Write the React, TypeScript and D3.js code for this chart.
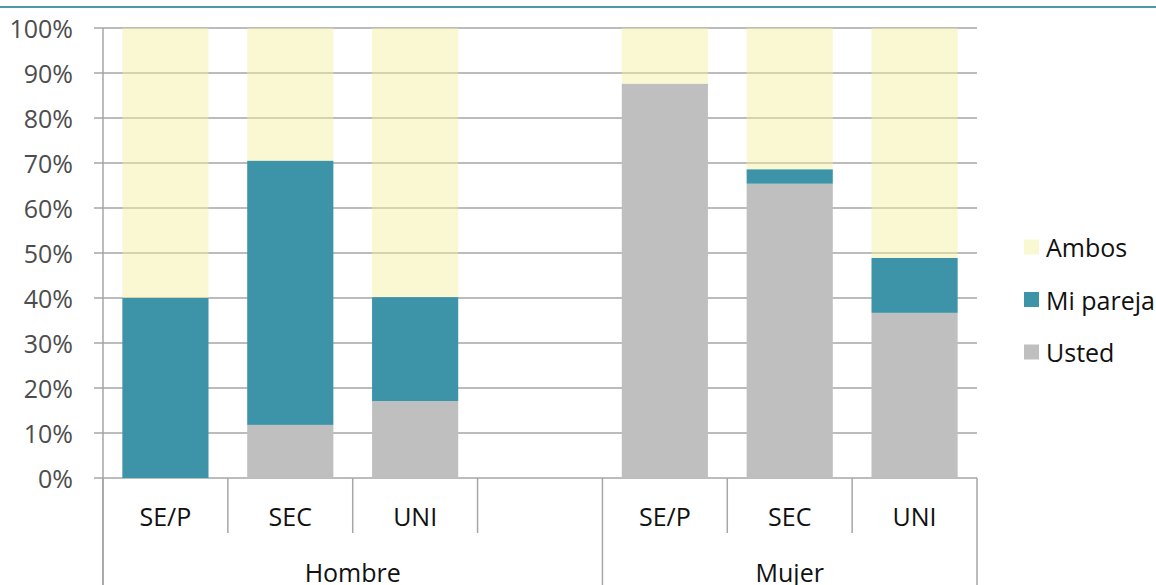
import React from "react";
import * as d3 from "d3";

const categories = ["SE/P", "SEC", "UNI", "", "SE/P", "SEC", "UNI"];
const groupOf = ["Hombre", "Hombre", "Hombre", "Hombre", "Mujer", "Mujer", "Mujer"];
const groups = ["Hombre", "Mujer"];
const usted = [0, 11.8, 17.1, 0, 87.6, 65.4, 36.7];
const miPareja = [40, 58.7, 23.1, 0, 0, 3.2, 12.2];
const ambos = [60, 29.5, 59.8, 0, 12.4, 31.4, 51.1];
const hasBar = [true, true, true, false, true, true, true];
const yTicks = [0, 10, 20, 30, 40, 50, 60, 70, 80, 90, 100];

const seriesNames = ["Ambos", "Mi pareja", "Usted"];
const seriesColors: Record<string, string> = {
  Usted: "#BFBFBF",
  "Mi pareja": "#3D93A8",
  Ambos: "#F3EE9E",
};

const W = 1156;
const H = 585;
const FONT = "'Open Sans', 'Noto Sans', sans-serif";

export default function App() {
  const left = 103;
  const right = 977;
  const top = 28;
  const bottom = 478;

  const x = d3
    .scaleBand<number>()
    .domain(categories.map((_, i) => i))
    .range([left, right])
    .paddingInner(0.31)
    .paddingOuter(0.155);
  const y = d3.scaleLinear().domain([0, 100]).range([bottom, top]);

  const step = x.step();
  const boundary = (i: number) =>
    i < categories.length ? (x(i) as number) - (step * x.paddingInner()) / 2 : right;

  const stackInput = categories.map((_, i) => ({
    Usted: usted[i],
    "Mi pareja": miPareja[i],
    Ambos: ambos[i],
    idx: i,
  }));
  const stack = d3.stack<any>().keys(["Usted", "Mi pareja", "Ambos"]);
  const layers = stack(stackInput);

  const groupStarts = groups.map((g) => groupOf.indexOf(g));
  const groupEnds = groups.map((g) => groupOf.lastIndexOf(g) + 1);

  const gridColor = "#A6A6A6";

  return (
    <svg
      width={W}
      height={H}
      style={{ position: "absolute", left: 0, top: 0, background: "#fff" }}
      fontFamily={FONT}
    >
      <rect x={0} y={0} width={W} height={H} fill="#fff" />
      <line x1={0} x2={W} y1={7} y2={7} stroke="#4A9AAB" strokeWidth={2} />

      {/* gridlines */}
      {yTicks.map((t) => (
        <line
          key={"g" + t}
          x1={94}
          x2={right}
          y1={y(t)}
          y2={y(t)}
          stroke={gridColor}
          strokeWidth={1.5}
        />
      ))}

      {/* bars */}
      {layers.map((layer) => (
        <g key={layer.key}>
          {layer.map((d, i) =>
            hasBar[i] && d[1] - d[0] > 0 ? (
              <rect
                key={i}
                x={x(i)}
                width={x.bandwidth()}
                y={y(d[1])}
                height={y(d[0]) - y(d[1])}
                fill={seriesColors[layer.key as string]}
                fillOpacity={layer.key === "Ambos" ? 0.45 : 1}
              />
            ) : null
          )}
        </g>
      ))}

      {/* y axis */}
      <line x1={left} x2={left} y1={top} y2={H} stroke={gridColor} strokeWidth={1.5} />
      {yTicks.map((t) => (
        <text
          key={"t" + t}
          x={73}
          y={y(t)}
          textAnchor="end"
          dominantBaseline="central"
          fontSize={25}
          fill="#4D4D4D"
        >
          {t}%
        </text>
      ))}

      {/* category separators */}
      {d3.range(categories.length + 1).map((i) => {
        const isLong = groupStarts.includes(i) || i === categories.length;
        return (
          <line
            key={"s" + i}
            x1={boundary(i)}
            x2={boundary(i)}
            y1={bottom}
            y2={isLong ? H : 533}
            stroke={gridColor}
            strokeWidth={1.5}
          />
        );
      })}

      {categories.map((c, i) => (
        <text
          key={"c" + i}
          x={(x(i) as number) + x.bandwidth() / 2}
          y={516}
          textAnchor="middle"
          dominantBaseline="central"
          fontSize={25}
          fill="#111"
        >
          {c}
        </text>
      ))}

      {groups.map((g, gi) => (
        <text
          key={"grp" + g}
          x={(boundary(groupStarts[gi]) + boundary(groupEnds[gi])) / 2}
          y={572}
          textAnchor="middle"
          dominantBaseline="central"
          fontSize={25}
          fill="#111"
        >
          {g}
        </text>
      ))}

      {/* legend */}
      {seriesNames.map((s, i) => {
        const cy = 247 + i * 52.5;
        return (
          <g key={"l" + s}>
            <rect
              x={1024}
              y={cy - 7.5}
              width={15}
              height={15}
              fill={seriesColors[s]}
              fillOpacity={s === "Ambos" ? 0.45 : 1}
            />
            <text
              x={1046}
              y={cy}
              dominantBaseline="central"
              fontSize={25}
              fill="#111"
            >
              {s}
            </text>
          </g>
        );
      })}
    </svg>
  );
}
